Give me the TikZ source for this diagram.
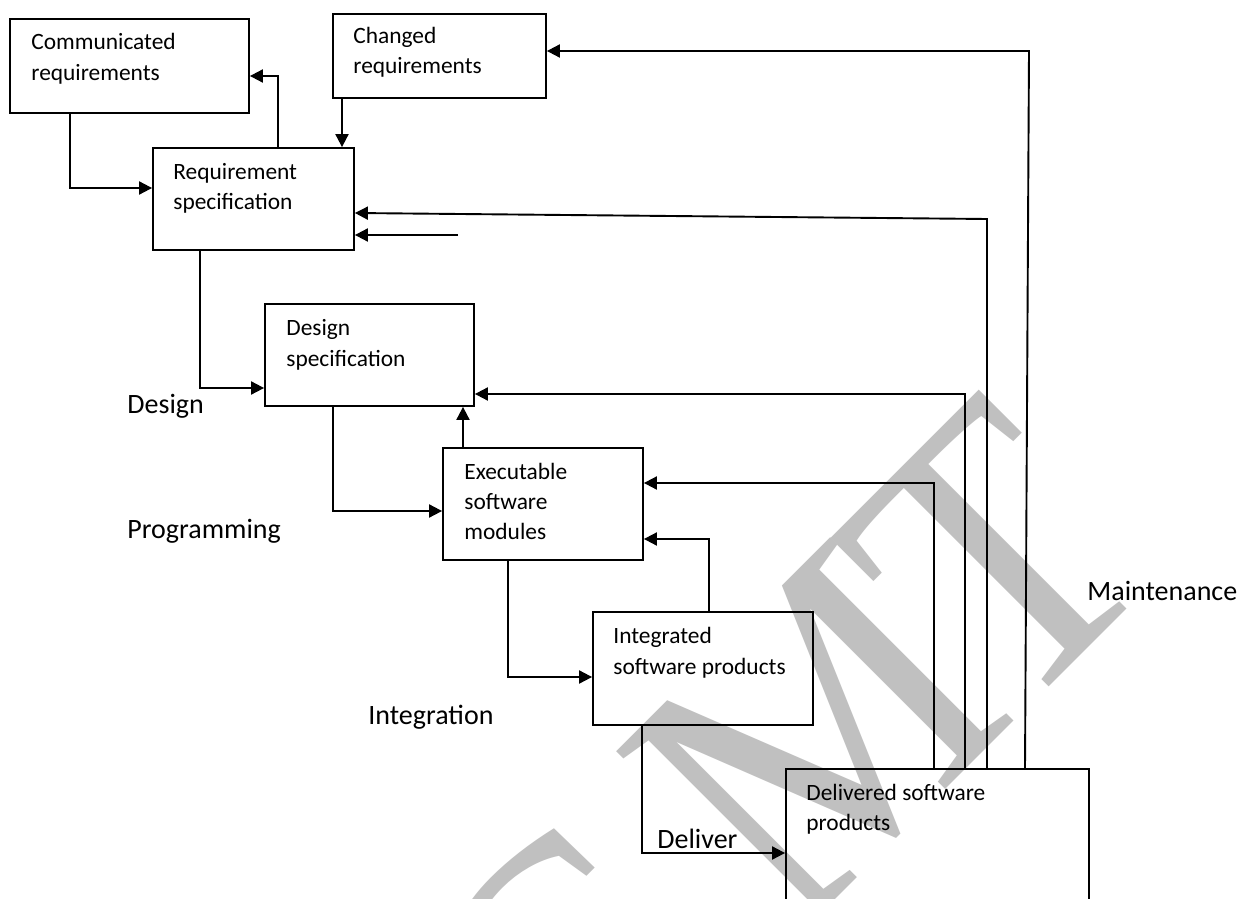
\documentclass[tikz,border=0pt]{standalone}
\usepackage{fontspec}
\setmainfont{Carlito}
\newfontfamily\wmfont{Liberation Serif}
\usetikzlibrary{arrows.meta,fit}
\definecolor{wmgray}{RGB}{192,192,192}
\tikzset{
  box/.style={draw, line width=0.9pt, inner sep=0pt},
  btxt/.style={anchor=base west, inner sep=0pt, font=\fontsize{11.7}{15}\selectfont},
  lbl/.style={anchor=base west, inner sep=0pt, font=\fontsize{14}{17}\selectfont},
  conn/.style={line width=0.95pt, -{Triangle[length=6.5pt,width=6.5pt]}},
  wmark/.style={rotate=45, xscale=0.92, anchor=base, inner sep=0pt, text=wmgray,
      font=\wmfont\fontsize{198}{206}\selectfont},
}
\begin{document}
\begin{tikzpicture}[x=0.5pt,y=-0.5pt]
\fill[white] (0,0) rectangle (1243,899);
\useasboundingbox (0,0) rectangle (1243,899);
% watermark
\node[wmark] (wmC) at (664,1076) {C};
\node[wmark] (wmM) at (907,828) {M};
\node[wmark] (wmT) at (1088,648) {T};
% boxes
\path (10,19) coordinate (cr1) (249,113) coordinate (cr2);
\node[box, fit=(cr1)(cr2)] (cr) {};
\path (333,14) coordinate (ch1) (546,98) coordinate (ch2);
\node[box, fit=(ch1)(ch2)] (ch) {};
\path (153,148) coordinate (rs1) (354,250) coordinate (rs2);
\node[box, fit=(rs1)(rs2)] (rs) {};
\path (265,304) coordinate (ds1) (474,406) coordinate (ds2);
\node[box, fit=(ds1)(ds2)] (ds) {};
\path (443,448) coordinate (ex1) (643,560) coordinate (ex2);
\node[box, fit=(ex1)(ex2)] (ex) {};
\path (593,612) coordinate (is1) (813,725) coordinate (is2);
\node[box, fit=(is1)(is2)] (is) {};
\path (786,769) coordinate (dl1) (1089,930) coordinate (dl2);
\node[box, fit=(dl1)(dl2)] (dl) {};
% box texts
\node[btxt] (cr-a) at (31,50) {Communicated};
\node[btxt] (cr-b) at (31,81) {requirements};
\node[btxt] (ch-a) at (353,44) {Changed};
\node[btxt] (ch-b) at (353,74) {requirements};
\node[btxt] (rs-a) at (173,180) {Requirement};
\node[btxt] (rs-b) at (173,210) {specification};
\node[btxt] (ds-a) at (286,335) {Design};
\node[btxt] (ds-b) at (286,366) {specification};
\node[btxt] (ex-a) at (464,479) {Executable};
\node[btxt] (ex-b) at (464,509) {software};
\node[btxt] (ex-c) at (464,539) {modules};
\node[btxt] (is-a) at (613,643) {Integrated};
\node[btxt] (is-b) at (613,674) {software products};
\node[btxt] (dl-a) at (806,800) {Delivered software};
\node[btxt] (dl-b) at (806,830) {products};
% phase labels
\node[lbl] (l-design) at (127,413) {Design};
\node[lbl] (l-prog) at (127,538) {Programming};
\node[lbl] (l-integ) at (368,724) {Integration};
\node[lbl] (l-deliv) at (657,848) {Deliver};
\node[lbl] (l-maint) at (1087,600) {Maintenance};
% connectors
\draw[conn] (rs.north -| 278,0) |- (cr.east |- 0,76);
\draw[conn] (cr.south -| 70,0) |- (rs.west |- 0,188);
\draw[conn] (ch.south -| 342,0) -- (rs.north -| 342,0);
\draw[conn] (dl.north -| 1025,0) -- (1029,51) -- (ch.east |- 0,51);
\draw[conn] (dl.north -| 987,0) -- (987,219) -- (rs.east |- 0,213);
\coordinate (free) at (458,235);
\draw[conn] (free) -- (rs.east |- free);
\draw[conn] (rs.south -| 200,0) |- (ds.west |- 0,388);
\draw[conn] (dl.north -| 965,0) |- (ds.east |- 0,394);
\draw[conn] (ex.north -| 463,0) -- (ds.south -| 463,0);
\draw[conn] (ds.south -| 333,0) |- (ex.west |- 0,511);
\draw[conn] (dl.north -| 934,0) |- (ex.east |- 0,483);
\draw[conn] (is.north -| 709,0) |- (ex.east |- 0,539);
\draw[conn] (ex.south -| 508,0) |- (is.west |- 0,677);
\draw[conn] (is.south -| 642,0) |- (dl.west |- 0,853);
\end{tikzpicture}
\end{document}
